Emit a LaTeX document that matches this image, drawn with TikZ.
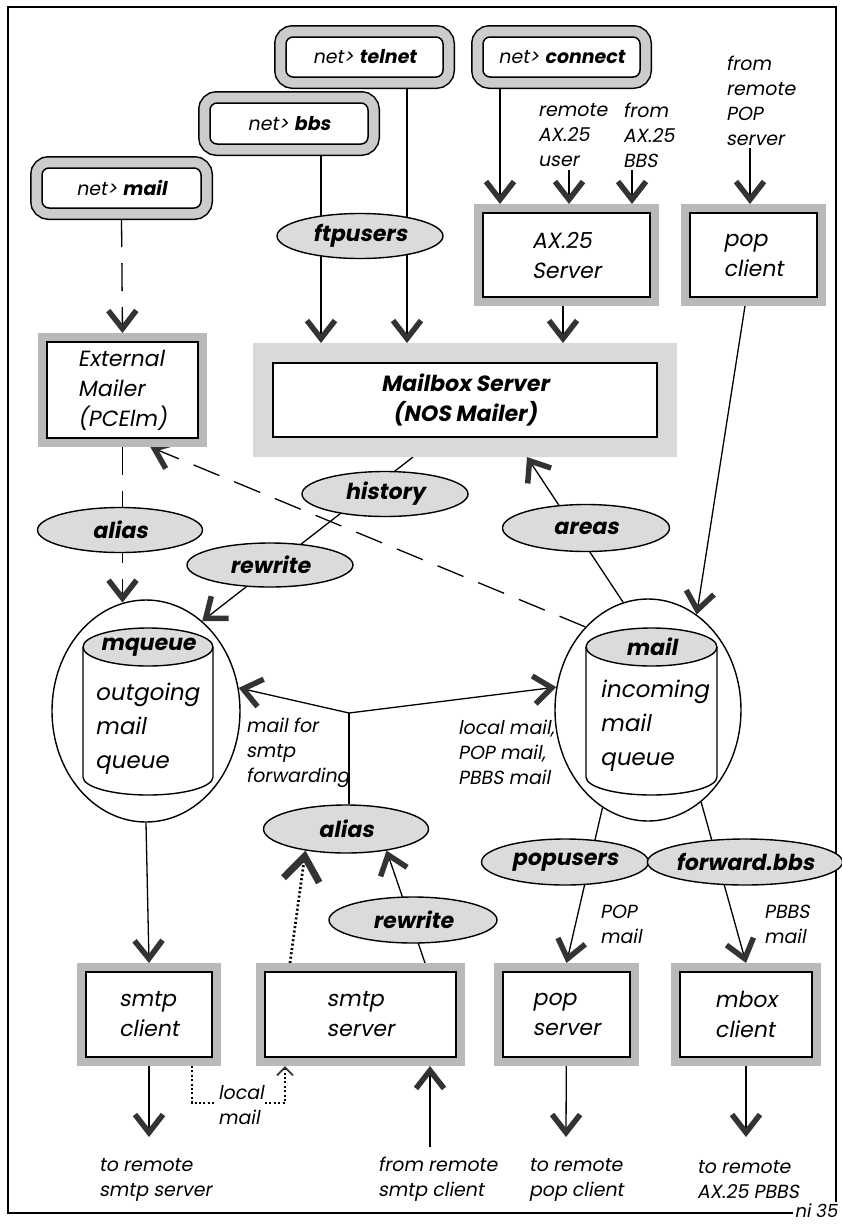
\documentclass[tikz,border=0pt]{standalone}
\usepackage{fontspec}
\setmainfont{Poppins}[FakeSlant=0.18]
\usetikzlibrary{arrows.meta,shapes.geometric}
\pgfdeclarelayer{bg}
\pgfsetlayers{bg,main}
\newcommand\myfs[2]{\fontsize{#1}{#2}\selectfont}
\tikzset{
 ln/.style={line width=1.3pt},
 arr/.style={ln,-{Straight Barb[length=18pt,width=28pt,line width=5.5pt,color=black!80]}},
 bigarr/.style={-{Straight Barb[length=24pt,width=36pt,line width=7pt,color=black!80]}},
 smallarr/.style={-{Straight Barb[length=8pt,width=16pt,line width=1.8pt,color=black!80]}},
 dasharr/.style={ln, dash pattern=on 28pt off 16pt, -{Straight Barb[length=18pt,width=28pt,line width=5.5pt,color=black!80]}},
 dotln/.style={line width=2.7pt, dash pattern=on 2pt off 2.4pt},
 box/.style={draw, line width=1.8pt, fill=white, outer sep=9pt, inner sep=2pt, align=left, font=\myfs{22}{30}, preaction={draw=gray!55, line width=18pt}},
 bigbox/.style={draw, line width=1.8pt, fill=white, outer sep=20pt, align=center, font=\myfs{22}{30}\bfseries, preaction={draw=gray!30, line width=40pt}},
 rbox/.style={draw, line width=1.5pt, fill=white, rounded corners=7pt, outer sep=11pt, font=\myfs{19}{22}, preaction={draw=black, line width=24pt}, preaction={draw=gray!40, line width=21pt}},
 ell/.style={ellipse, draw, line width=1.4pt, fill=gray!28, inner sep=0pt, font=\myfs{22}{26}\bfseries},
 circ/.style={ellipse, draw, line width=1.4pt, fill=white, inner sep=0pt},
 lab/.style={align=left, inner sep=0pt, outer sep=3pt, font=\myfs{19}{25}, anchor=west},
 cyl/.style={line width=1.4pt},
}
\begin{document}
\begin{tikzpicture}[x=1pt,y=-1pt]
\useasboundingbox (0,0) rectangle (842,1224);
\begin{pgfonlayer}{bg}
\fill[white] (0,0) rectangle (842,1224);
\end{pgfonlayer}
\draw[line width=2pt] (8,7) rectangle (836,1213);
\node[fill=white, inner sep=2pt, font=\myfs{18}{20}] (pg) at (816,1211) {ni 35};

% top rounded boxes
\node[rbox, minimum width=157pt, minimum height=40pt] (telnet) at (364.5,57) {net> \textbf{telnet}};
\node[rbox, minimum width=158pt, minimum height=41pt] (bbs) at (289,123.5) {net> \textbf{bbs}};
\node[rbox, minimum width=159pt, minimum height=40pt] (nmail) at (121.5,188) {net> \textbf{mail}};
\node[rbox, minimum width=157pt, minimum height=40pt] (connect) at (561.5,57) {net> \textbf{connect}};

% small labels, top
\node[lab] (ru) at (535,135) {remote\\AX.25\\user};
\node[lab] (fb) at (620,135) {from\\AX.25\\BBS};
\node[lab] (fpop) at (723,100.5) {from\\remote\\POP\\server};

% boxes
\node[box, minimum width=167pt, minimum height=84pt] (ax) at (566.5,255) {AX.25\\Server};
\node[box, minimum width=127pt, minimum height=84pt] (popc) at (753.5,255) {pop\\client};
\node[box, minimum width=151pt, minimum height=96pt] (ext) at (122.5,390) {External\\Mailer\\(PCElm)};
\node[bigbox, minimum width=384pt, minimum height=74pt] (mbox) at (465,400) {Mailbox Server\\(NOS Mailer)};
\node[box, minimum width=126pt, minimum height=85pt] (smtpc) at (149,1014.5) {smtp\\client};
\node[box, minimum width=191pt, minimum height=85pt] (smtps) at (360.5,1014.5) {smtp\\server};
\node[box, minimum width=127pt, minimum height=85pt] (pops) at (566.5,1014.5) {pop\\server};
\node[box, minimum width=132pt, minimum height=85pt] (mboxc) at (746,1014.5) {mbox\\client};

% ellipses
\node[ell, minimum width=166pt, minimum height=45pt] (ftp) at (360,236) {ftpusers};
\node[ell, minimum width=166pt, minimum height=45pt] (hist) at (385,494) {history};
\node[ell, minimum width=165pt, minimum height=45pt] (alias1) at (120,530) {alias};
\node[ell, minimum width=166pt, minimum height=44pt] (rew1) at (270,565) {rewrite};
\node[ell, minimum width=167pt, minimum height=47pt] (areas) at (586,528) {areas};
\node[ell, minimum width=165pt, minimum height=48pt] (alias2) at (346,829) {alias};
\node[ell, minimum width=168pt, minimum height=46pt] (rew2) at (413,920) {rewrite};
\node[ell, minimum width=167pt, minimum height=46pt] (popu) at (565,862) {popusers};
\node[ell, minimum width=166pt, minimum height=46pt] (fwd) at (745,862) {forward.bbs};

% queues
\node[circ, minimum width=188pt, minimum height=222pt] (mq) at (146,711) {};
\draw[cyl] (83,647) -- (83,777) arc[start angle=180, end angle=360, x radius=65pt, y radius=18pt] -- (213,647);
\draw[cyl, fill=gray!28] (148,647) ellipse [x radius=65pt, y radius=19pt];
\node[font=\myfs{22}{26}\bfseries] (mqt) at (148,647) {mqueue};
\node[anchor=west, align=left, inner sep=0pt, font=\myfs{23}{34}] (mqx) at (95,729) {outgoing\\mail\\queue};

\node[circ, minimum width=186pt, minimum height=222pt] (mailq) at (648,710) {};
\draw[cyl] (586,647) -- (586,777) arc[start angle=180, end angle=360, x radius=65.5pt, y radius=18pt] -- (717,647);
\draw[cyl, fill=gray!28] (651.5,647) ellipse [x radius=65.5pt, y radius=19pt];
\node[font=\myfs{22}{26}\bfseries] (mailt) at (651.5,647) {mail};
\node[anchor=west, align=left, inner sep=0pt, font=\myfs{23}{34}] (mailx) at (600,725.5) {incoming\\mail\\queue};

% middle / bottom labels
\node[lab] (mfs) at (243,752.5) {mail for\\smtp\\forwarding};
\node[lab] (lpm) at (455,752.5) {local mail,\\POP mail,\\PBBS mail};
\node[lab] (popm) at (597,924.5) {POP\\mail};
\node[lab] (pbbsm) at (761,924.5) {PBBS\\mail};
\node[lab, fill=white, inner sep=1pt] (lm) at (214,1105.5) {local\\mail};
\node[lab] (trs) at (96,1179.5) {to remote\\smtp server};
\node[lab] (frs) at (375,1179.5) {from remote\\smtp client};
\node[lab] (trp) at (526,1179.5) {to remote\\pop client};
\node[lab] (tra) at (694,1179.5) {to remote\\AX.25 PBBS};

% helper coordinates
\coordinate (c321) at (321,0);
\coordinate (c407) at (407,0);
\coordinate (c500) at (500,0);
\coordinate (c569) at (569,0);
\coordinate (c632) at (632,0);
\coordinate (c750) at (750,0);
\coordinate (c563) at (563,0);
\coordinate (c413) at (413,0);
\coordinate (c527) at (527,0);
\coordinate (c745) at (745,0);
\coordinate (c425) at (425,0);
\coordinate (c290) at (290,0);
\coordinate (J) at (349,713);
\coordinate (e1) at (149,1137);
\coordinate (e3) at (566,1137);
\coordinate (e4) at (746,1137);
\coordinate (s1) at (430,1147);
\coordinate (lm1) at (192,1103);
\coordinate (lm2) at (285,1103);

\begin{pgfonlayer}{bg}
\draw[arr] (telnet.south -| c407) -- (mbox.north -| c407);
\draw[arr] (bbs.south -| c321) -- (mbox.north -| c321);
\draw[arr] (connect.south -| c500) -- (ax.north -| c500);
\draw[arr] (ru.south -| c569) -- (ax.north -| c569);
\draw[arr] (fb.south -| c632) -- (ax.north -| c632);
\draw[arr] (fpop.south -| c750) -- (popc.north -| c750);
\draw[arr] (ax.south -| c563) -- (mbox.north -| c563);
\draw[arr] (popc.south -| c745) -- (mailq.63);
\draw[dasharr] (nmail.south) -- (ext.north);
\draw[dasharr] (ext.south) -- (ext.south |- mq.102);
\draw[dasharr] (mailq.127) -- (ext.-64);
\draw[arr] (mbox.south -| c413) -- (mq.58);
\draw[arr] (mailq.103) -- (mbox.south -| c527);
\draw[ln] (alias2.north -| J) -- (J);
\draw[arr] (J) -- (mq.14);
\draw[arr] (J) -- (mailq.166);
\draw[arr] (smtps.north -| c425) -- (alias2.-28);
\draw[dotln, bigarr] (smtps.north -| c290) -- (alias2.-152);
\draw[arr] (mq.south) -- (smtpc.north);
\draw[arr] (mailq.-115) -- (pops.north);
\draw[arr] (mailq.-60) -- (mboxc.north);
\draw[arr] (smtpc) -- (e1);
\draw[arr] (pops) -- (e3);
\draw[arr] (mboxc) -- (e4);
\draw[arr] (s1) -- (smtps.south -| s1);
\draw[dotln, smallarr] (smtpc.south -| lm1) -- (lm1) -- (lm2) -- (smtps.south -| lm2);
\end{pgfonlayer}
\end{tikzpicture}
\end{document}
